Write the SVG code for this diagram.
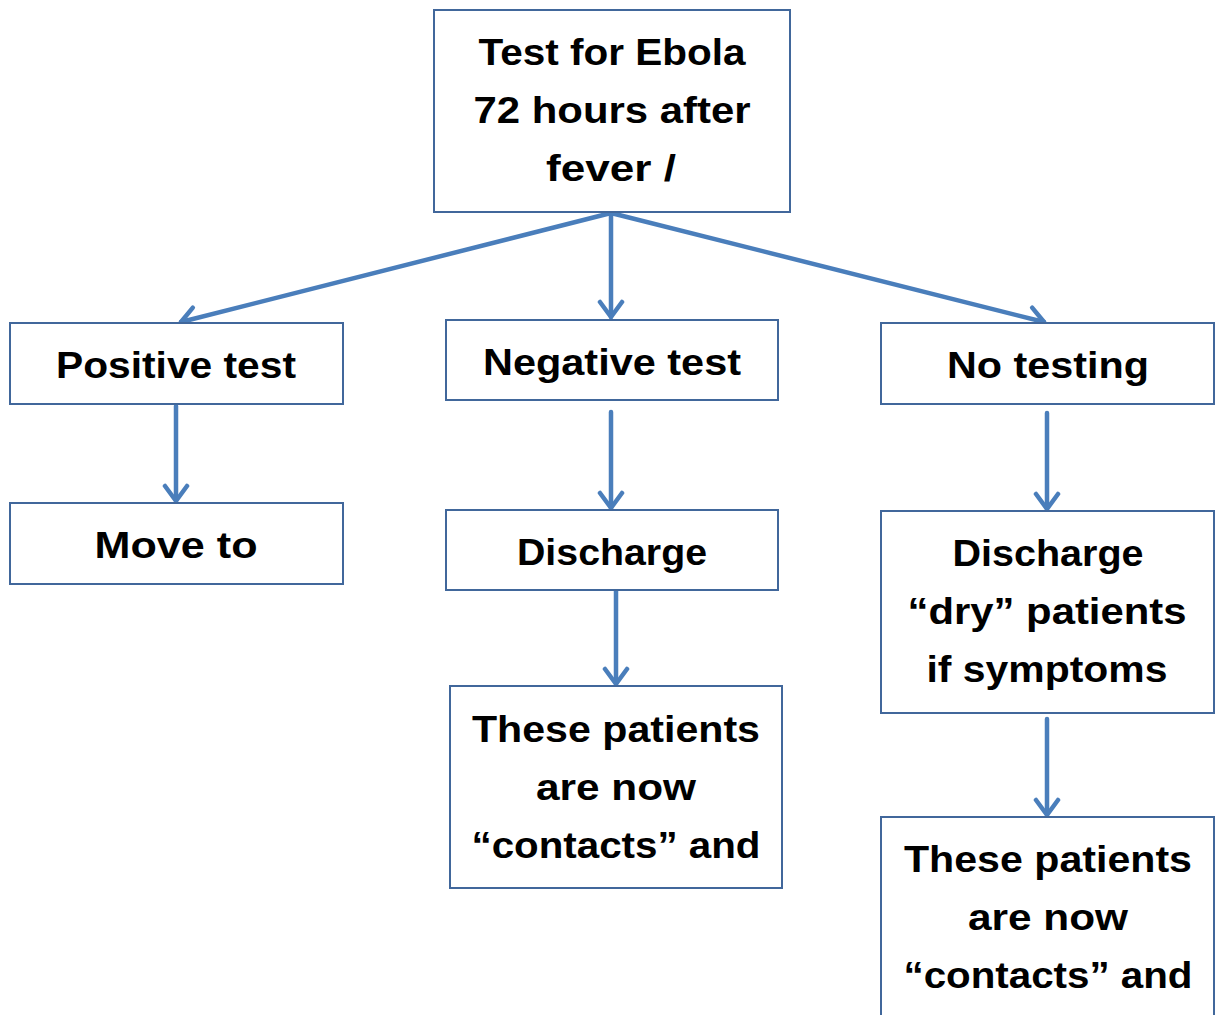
<svg xmlns="http://www.w3.org/2000/svg" width="1215" height="1015" viewBox="0 0 1215 1015">
<style>
.box{fill:#fff;stroke:#41679b;stroke-width:2}
.t{font-family:"Liberation Sans",Arial,sans-serif;font-weight:bold;font-size:37px;fill:#000;text-anchor:middle}
.c{fill:none;stroke:#4a7ebb;stroke-width:4.5;stroke-linecap:round}
</style>
<defs>
<marker id="ah" markerUnits="userSpaceOnUse" viewBox="-20 -14 24 28" markerWidth="24" markerHeight="28" refX="0" refY="0" orient="auto">
<polyline points="-15,-11 0,0 -15,11" fill="none" stroke="#4a7ebb" stroke-width="4.5" stroke-linecap="round" stroke-linejoin="round"/>
</marker>
</defs>
<rect width="1215" height="1015" fill="#fff"/>
<g id="connectors">
<line class="c" x1="611" y1="213" x2="181" y2="322" marker-end="url(#ah)"/>
<line class="c" x1="611" y1="213" x2="611" y2="317" marker-end="url(#ah)"/>
<line class="c" x1="611" y1="213" x2="1044" y2="322" marker-end="url(#ah)"/>
<line class="c" x1="176" y1="406" x2="176" y2="501" marker-end="url(#ah)"/>
<line class="c" x1="611" y1="412" x2="611" y2="508" marker-end="url(#ah)"/>
<line class="c" x1="616" y1="590" x2="616" y2="684" marker-end="url(#ah)"/>
<line class="c" x1="1047" y1="413" x2="1047" y2="509" marker-end="url(#ah)"/>
<line class="c" x1="1047" y1="719" x2="1047" y2="815" marker-end="url(#ah)"/>
</g>
<g id="top">
<rect class="box" x="434" y="10" width="356" height="202"/>
<text class="t" x="612" y="65" textLength="267" lengthAdjust="spacingAndGlyphs">Test for Ebola</text>
<text class="t" x="612" y="123" textLength="277" lengthAdjust="spacingAndGlyphs">72 hours after</text>
<text class="t" x="611" y="181" textLength="130" lengthAdjust="spacingAndGlyphs">fever /</text>
</g>
<g id="positive">
<rect class="box" x="10" y="323" width="333" height="81"/>
<text class="t" x="176" y="378" textLength="240" lengthAdjust="spacingAndGlyphs">Positive test</text>
</g>
<g id="negative">
<rect class="box" x="446" y="320" width="332" height="80"/>
<text class="t" x="612" y="375" textLength="258" lengthAdjust="spacingAndGlyphs">Negative test</text>
</g>
<g id="notesting">
<rect class="box" x="881" y="323" width="333" height="81"/>
<text class="t" x="1048" y="378" textLength="202" lengthAdjust="spacingAndGlyphs">No testing</text>
</g>
<g id="moveto">
<rect class="box" x="10" y="503" width="333" height="81"/>
<text class="t" x="176" y="558" textLength="163" lengthAdjust="spacingAndGlyphs">Move to</text>
</g>
<g id="discharge-mid">
<rect class="box" x="446" y="510" width="332" height="80"/>
<text class="t" x="612" y="565" textLength="190" lengthAdjust="spacingAndGlyphs">Discharge</text>
</g>
<g id="discharge-right">
<rect class="box" x="881" y="511" width="333" height="202"/>
<text class="t" x="1048" y="566" textLength="191" lengthAdjust="spacingAndGlyphs">Discharge</text>
<text class="t" x="1047" y="624" textLength="279" lengthAdjust="spacingAndGlyphs">“dry” patients</text>
<text class="t" x="1047" y="682" textLength="241" lengthAdjust="spacingAndGlyphs">if symptoms</text>
</g>
<g id="contacts-mid">
<rect class="box" x="450" y="686" width="332" height="202"/>
<text class="t" x="616" y="742" textLength="288" lengthAdjust="spacingAndGlyphs">These patients</text>
<text class="t" x="616" y="800" textLength="160" lengthAdjust="spacingAndGlyphs">are now</text>
<text class="t" x="616" y="858" textLength="289" lengthAdjust="spacingAndGlyphs">“contacts” and</text>
</g>
<g id="contacts-right">
<rect class="box" x="881" y="817" width="333" height="210"/>
<text class="t" x="1048" y="872" textLength="288" lengthAdjust="spacingAndGlyphs">These patients</text>
<text class="t" x="1048" y="930" textLength="160" lengthAdjust="spacingAndGlyphs">are now</text>
<text class="t" x="1048" y="988" textLength="289" lengthAdjust="spacingAndGlyphs">“contacts” and</text>
</g>
</svg>
